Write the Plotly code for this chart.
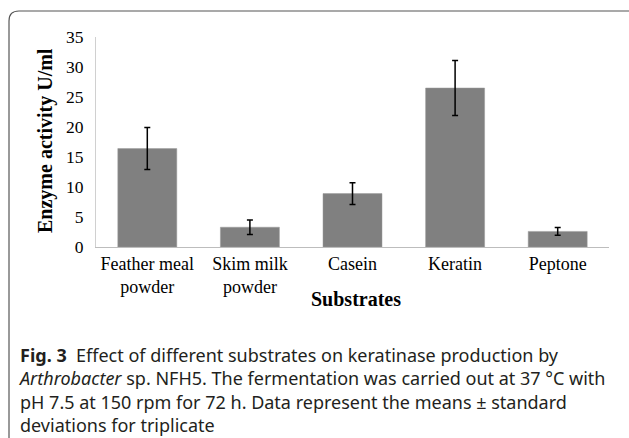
import plotly.graph_objects as go

categories = ["Feather meal<br>powder", "Skim milk<br>powder", "Casein", "Keratin", "Peptone"]
activity = [16.4, 3.3, 8.9, 26.5, 2.6]
std_dev = [3.5, 1.2, 1.8, 4.6, 0.65]
y_ticks = [0, 5, 10, 15, 20, 25, 30, 35]

W, H = 629, 438
L, R, T, B = 96, 20, 37, 191
PW, PH = W - L - R, H - T - B

def px(x):
    return (x - L) / PW

def py(y):
    return (H - B - y) / PH

fig = go.Figure()
fig.add_trace(go.Bar(
    x=categories, y=activity,
    marker=dict(color="#808080", line=dict(color="#9a9a9a", width=0.5)),
    error_y=dict(type="data", array=std_dev, visible=True, color="black", thickness=1.5, width=3),
))

serif = "Liberation Serif, Times New Roman, serif"
fig.update_layout(
    width=W, height=H,
    margin=dict(l=L, r=R, t=T, b=B),
    plot_bgcolor="white", paper_bgcolor="white",
    bargap=0.425,
    showlegend=False,
    xaxis=dict(showline=True, linecolor="#bdbdbd", linewidth=1, showgrid=False,
               ticks="", tickfont=dict(family=serif, size=18, color="black"),
               ticklabelstandoff=0),
    yaxis=dict(range=[0, 35], tickvals=y_ticks, showline=True, linecolor="#d0d0d0", linewidth=1,
               showgrid=False, zeroline=False, ticks="",
               tickfont=dict(family=serif, size=17.5, color="black"), ticklabelstandoff=8),
)

annotations = [
    dict(text="<b>Enzyme activity U/ml</b>", x=px(45), y=py(141), textangle=-90,
         font=dict(family=serif, size=20, color="black")),
    dict(text="<b>Substrates</b>", x=px(356), y=py(299),
         font=dict(family=serif, size=20, color="black")),
    dict(text=("<b>Fig. 3</b>  Effect of different substrates on keratinase production by<br>"
               "<i>Arthrobacter</i> sp. NFH5. The fermentation was carried out at 37 °C with<br>"
               "pH 7.5 at 150 rpm for 72 h. Data represent the means ± standard<br>"
               "deviations for triplicate"),
         x=px(16), y=py(341), xanchor="left", yanchor="top", align="left",
         font=dict(family="Noto Sans", size=18, color="#231f20")),
]
for a in annotations:
    a.setdefault("xanchor", "center")
    a.setdefault("yanchor", "middle")
    a.update(xref="paper", yref="paper", showarrow=False)
fig.update_layout(annotations=annotations)

border_style = dict(color="#555555", width=1.2)
fig.add_shape(type="line", xref="paper", yref="paper", layer="above",
              x0=px(9), x1=px(9), y0=py(440), y1=py(21), line=border_style)
fig.add_shape(type="line", xref="paper", yref="paper", layer="above",
              x0=px(19), x1=px(640), y0=py(11), y1=py(11), line=border_style)
fig.add_shape(type="path", xref="paper", yref="paper", layer="above",
              path=f"M {px(9)},{py(21)} Q {px(9)},{py(11)} {px(19)},{py(11)}",
              line=border_style)

fig.write_html("out.html", config={"displayModeBar": False},
               post_script="document.body.style.margin='0';document.body.style.overflow='hidden';")
